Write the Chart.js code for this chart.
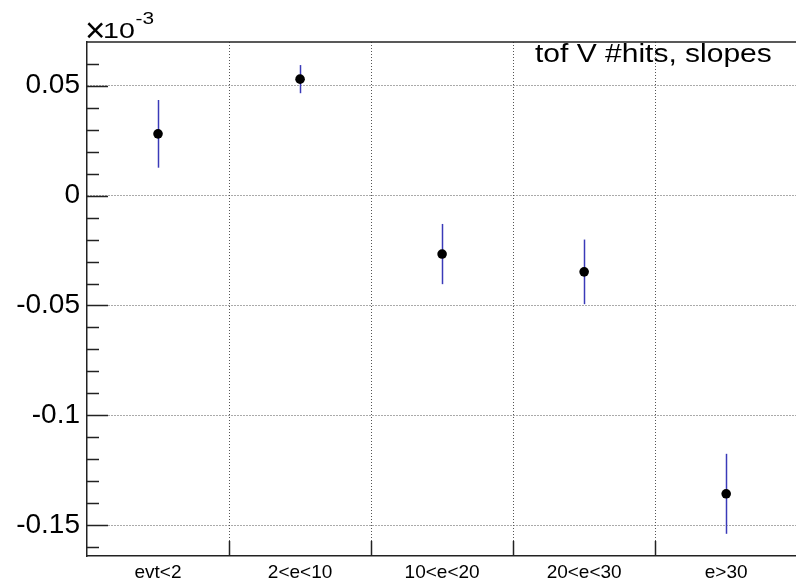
<!DOCTYPE html>
<html>
<head>
<meta charset="utf-8">
<script src="https://cdn.jsdelivr.net/npm/chart.js@4/dist/chart.umd.min.js"></script>
<style>
  html, body { margin: 0; padding: 0; background: #fff; overflow: hidden; }
  canvas { display: block; }
</style>
</head>
<body>
<canvas id="c" width="802" height="583"></canvas>
<script>
// Fitted slope per event-multiplicity bin (values shown in units of 1e-3)
const categories = ['evt<2', '2<e<10', '10<e<20', '20<e<30', 'e>30'];
const slopes = [0.0281, 0.0530, -0.0266, -0.0347, -0.1357];
const slopeErrors = [0.0154, 0.0064, 0.0137, 0.0147, 0.0182];

// Axis range and tick spacing
const yRange = [-0.164, 0.0699];
const yMajorStep = 0.05;
const yMinorStep = 0.01;

const titleText = 'tof V #hits, slopes';
const exponentSign = '\u00d7';
const exponentBase = '10';
const exponentPower = '-3';

const FONT = '"Liberation Sans", Arial, Helvetica, sans-serif';
const AXIS_COLOR = '#222';
const GRID_COLOR = '#555';
const ERR_COLOR = '#3a3ab8';

function isMajor(v) {
  const r = v / yMajorStep;
  return Math.abs(r - Math.round(r)) < 1e-6;
}

function formatTick(v) {
  return parseFloat(v.toFixed(2)).toString();
}

// Frame, inward tick marks, error bars and the in-plot texts
const decorations = {
  id: 'decorations',
  beforeDatasetsDraw(chart) {
    const { ctx, scales: { x, y } } = chart;
    ctx.save();
    ctx.strokeStyle = ERR_COLOR;
    ctx.lineWidth = 1.5;
    slopes.forEach((v, i) => {
      const px = Math.round(x.getPixelForValue(i)) + 0.5;
      ctx.beginPath();
      ctx.moveTo(px, y.getPixelForValue(v + slopeErrors[i]));
      ctx.lineTo(px, y.getPixelForValue(v - slopeErrors[i]));
      ctx.stroke();
    });
    ctx.restore();
  },
  afterDraw(chart) {
    const { ctx, chartArea: a, scales: { x, y } } = chart;
    ctx.save();
    ctx.strokeStyle = AXIS_COLOR;
    ctx.lineWidth = 1.5;

    // top edge of the frame
    ctx.beginPath();
    ctx.moveTo(a.left, a.top);
    ctx.lineTo(a.right, a.top);
    ctx.stroke();

    // y tick marks pointing into the plot
    y.ticks.forEach(t => {
      const py = Math.round(y.getPixelForValue(t.value)) + 0.5;
      const len = isMajor(t.value) ? 21 : 12;
      ctx.beginPath();
      ctx.moveTo(a.left, py);
      ctx.lineTo(a.left + len, py);
      ctx.stroke();
    });

    // x tick marks at the bin edges
    for (let i = 1; i < categories.length; i++) {
      const px = Math.round((x.getPixelForValue(i - 1) + x.getPixelForValue(i)) / 2) + 0.5;
      ctx.beginPath();
      ctx.moveTo(px, a.bottom);
      ctx.lineTo(px, a.bottom - 15);
      ctx.stroke();
    }

    ctx.fillStyle = '#000';
    ctx.textBaseline = 'alphabetic';
    ctx.textAlign = 'left';

    // exponent of the y axis
    ctx.font = '35px ' + FONT;
    ctx.fillText(exponentSign, a.left - 2, 42);
    ctx.save();
    ctx.translate(a.left + 16, 38);
    ctx.scale(1.3, 1);
    ctx.font = '22px ' + FONT;
    ctx.fillText(exponentBase, 0, 0);
    const w = ctx.measureText(exponentBase).width;
    ctx.font = '16px ' + FONT;
    ctx.fillText(exponentPower, w + 0.5, -14);
    ctx.restore();

    // title inside the plot
    ctx.save();
    ctx.translate(535, 62);
    ctx.scale(1.2, 1);
    ctx.font = '25px ' + FONT;
    ctx.fillText(titleText, 0, 0);
    ctx.restore();

    ctx.restore();
  }
};

new Chart(document.getElementById('c'), {
  type: 'line',
  data: {
    labels: categories,
    datasets: [{
      data: slopes,
      showLine: false,
      pointRadius: 4.8,
      pointHoverRadius: 4.8,
      pointBackgroundColor: '#000',
      pointBorderColor: '#000',
      pointBorderWidth: 0
    }]
  },
  options: {
    responsive: false,
    animation: false,
    devicePixelRatio: 1,
    layout: { padding: { top: 42, left: 0, right: 0, bottom: 0 } },
    plugins: {
      legend: { display: false },
      tooltip: { enabled: false },
      title: { display: false }
    },
    scales: {
      x: {
        type: 'category',
        offset: true,
        afterFit(scale) { scale.height = 27; },
        grid: {
          offset: true,
          drawTicks: false,
          lineWidth: 1,
          color: ctx => (ctx.index > 0 && ctx.index < categories.length) ? GRID_COLOR : 'rgba(0,0,0,0)'
        },
        border: { display: true, color: AXIS_COLOR, width: 1.5, dash: [1, 2] },
        ticks: {
          color: '#000',
          font: { family: FONT, size: 19 },
          padding: 5,
          maxRotation: 0,
          autoSkip: false
        }
      },
      y: {
        type: 'linear',
        min: yRange[0],
        max: yRange[1],
        afterFit(scale) { scale.width = 87; },
        afterBuildTicks(scale) {
          const ticks = [];
          const k0 = Math.ceil(yRange[0] / yMinorStep - 1e-9);
          const k1 = Math.floor(yRange[1] / yMinorStep + 1e-9);
          for (let k = k0; k <= k1; k++) ticks.push({ value: +(k * yMinorStep).toFixed(4) });
          scale.ticks = ticks;
        },
        grid: {
          drawTicks: false,
          lineWidth: 1,
          color: ctx => (ctx.tick && isMajor(ctx.tick.value)) ? GRID_COLOR : 'rgba(0,0,0,0)'
        },
        border: { display: true, color: AXIS_COLOR, width: 1.5, dash: [1, 2] },
        ticks: {
          color: '#000',
          font: { family: FONT, size: 28 },
          padding: 7,
          autoSkip: false,
          callback: v => isMajor(v) ? formatTick(v) : ''
        }
      }
    }
  },
  plugins: [decorations]
});
</script>
</body>
</html>
